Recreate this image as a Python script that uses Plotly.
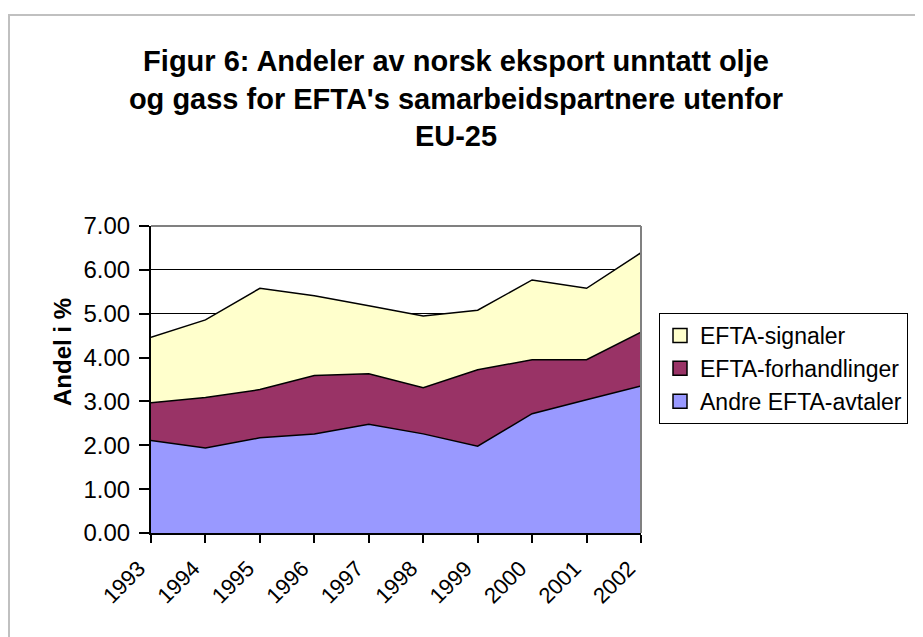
import plotly.graph_objects as go

years = ["1993", "1994", "1995", "1996", "1997", "1998", "1999", "2000", "2001", "2002"]
andre_avtaler = [2.11, 1.94, 2.17, 2.26, 2.48, 2.26, 1.98, 2.72, 3.04, 3.35]
forhandlinger = [0.86, 1.15, 1.10, 1.33, 1.15, 1.05, 1.74, 1.23, 0.91, 1.23]
signaler = [1.49, 1.77, 2.31, 1.82, 1.55, 1.64, 1.36, 1.82, 1.63, 1.81]
y_ticks = [0, 1, 2, 3, 4, 5, 6, 7]

FONT = "Arial, 'Liberation Sans', sans-serif"

# the page has an 8px body margin; figure sized to fit the 923x637 window
W, H = 915, 629
L, R, T, B = 143, 282, 218, 104
PW, PH = W - L - R, H - T - B

fig = go.Figure()
series = [
    ("Andre EFTA-avtaler", andre_avtaler, "#9999FF"),
    ("EFTA-forhandlinger", forhandlinger, "#993366"),
    ("EFTA-signaler", signaler, "#FFFFCC"),
]
for name, vals, col in series:
    fig.add_trace(go.Scatter(
        x=years, y=vals, name=name, mode="lines",
        stackgroup="one", fillcolor=col,
        line=dict(color="black", width=1.5),
        showlegend=False,
    ))
# legend entries with square keys (Excel style)
for name, vals, col in reversed(series):
    fig.add_trace(go.Scatter(
        x=[None], y=[None], name=name, mode="markers",
        marker=dict(symbol="square", size=14, color=col,
                    line=dict(color="black", width=1.5)),
        showlegend=True,
    ))

fig.update_layout(
    width=W, height=H,
    margin=dict(l=L, r=R, t=T, b=B, autoexpand=False),
    paper_bgcolor="white", plot_bgcolor="white",
    font=dict(family=FONT, color="black", size=22),
    title=dict(
        text="<b>Figur 6: Andeler av norsk eksport unntatt olje<br>og gass for EFTA's samarbeidspartnere utenfor<br>EU-25</b>",
        x=448 / W, xanchor="center", y=1 - 63 / H, yanchor="middle",
        font=dict(size=29, family=FONT),
    ),
    showlegend=True,
    legend=dict(
        traceorder="normal",
        x=(651 - L) / PW, xanchor="left",
        y=(H - B - 305) / PH, yanchor="top",
        bordercolor="black", borderwidth=1,
        font=dict(size=23, family=FONT),
        bgcolor="white",
        tracegroupgap=0, itemwidth=30,
    ),
    xaxis=dict(
        type="category", range=[0, 9],
        showgrid=False, showline=True, linecolor="black", linewidth=2,
        ticks="outside", ticklen=8, tickwidth=1.5, tickcolor="black",
        tickangle=-45, tickfont=dict(size=22),
        ticklabelshift=-12, ticklabelstandoff=4,
        zeroline=False,
    ),
    yaxis=dict(
        range=[0, 7], tickvals=y_ticks, tickformat=".2f",
        showgrid=True, gridcolor="black", gridwidth=1,
        showline=True, linecolor="black", linewidth=2,
        ticks="outside", ticklen=10, tickwidth=1.5, tickcolor="black",
        tickfont=dict(size=24), ticklabelstandoff=4,
        zeroline=False,
    ),
    annotations=[dict(
        text="<b>Andel i %</b>", textangle=-90, showarrow=False,
        xref="paper", yref="paper",
        x=(54 - L) / PW, y=(H - B - 344) / PH,
        xanchor="center", yanchor="middle",
        font=dict(size=24, family=FONT),
    )],
)

# plot-area border (gray top/right)
fig.add_shape(type="line", xref="paper", yref="paper", x0=0, y0=1, x1=1, y1=1,
              line=dict(color="#808080", width=2), layer="above")
fig.add_shape(type="line", xref="paper", yref="paper", x0=1, y0=0, x1=1, y1=1,
              line=dict(color="#808080", width=2), layer="above")
# outer chart frame
fig.add_shape(type="rect", xref="paper", yref="paper",
              x0=(1 - L) / PW, x1=(W + 20 - L) / PW,
              y0=(H - B - (H + 20)) / PH, y1=(H - B - 7) / PH,
              line=dict(color="#C0C0C0", width=2), layer="below")

fig.write_html("out.html")
